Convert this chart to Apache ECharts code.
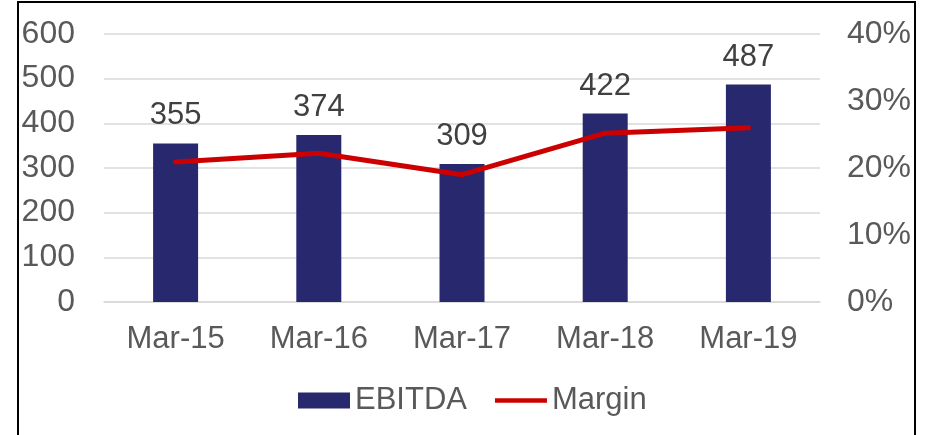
<!DOCTYPE html>
<html>
<head>
<meta charset="utf-8">
<script src="https://cdn.jsdelivr.net/npm/echarts@6/dist/echarts.min.js"></script>
<style>
  html, body { margin: 0; padding: 0; background: #fff; }
  #main { width: 928px; height: 435px; }
</style>
</head>
<body>
<div id="main"></div>
<script>
var years = ['Mar-15', 'Mar-16', 'Mar-17', 'Mar-18', 'Mar-19'];
var ebitda = [355, 374, 309, 422, 487];
var margin = [20.9, 22.2, 19.0, 25.2, 26.0];   // %

var myChart = echarts.init(document.getElementById('main'));
var font = '"Liberation Sans", Arial, sans-serif';

var option = {
    animation: false,
    backgroundColor: '#fff',
    textStyle: { fontFamily: font },
    graphic: [{
        type: 'rect',
        shape: { x: 18, y: 2, width: 897, height: 445 },
        style: { fill: 'none', stroke: '#000', lineWidth: 2 },
        silent: true
    }],
    grid: { left: 104, right: 108, top: 34, bottom: 133 },
    legend: {
        left: 293,
        top: 380,
        itemWidth: 52,
        itemHeight: 16,
        itemGap: 28,
        textStyle: { fontSize: 31, color: '#595959', fontFamily: font },
        data: [
            { name: 'EBITDA', icon: 'rect' },
            { name: 'Margin', icon: 'path://M0,0 L56,0 L56,5 L0,5 Z', itemStyle: { color: '#cc0000' } }
        ]
    },
    xAxis: {
        type: 'category',
        data: years,
        axisLine: { lineStyle: { color: '#d9d9d9', width: 1.5 } },
        axisTick: { show: false },
        axisLabel: { fontSize: 31, color: '#595959', margin: 22 }
    },
    yAxis: [{
        type: 'value',
        min: 0, max: 600, interval: 100,
        axisLine: { show: false },
        axisTick: { show: false },
        splitLine: { lineStyle: { color: '#d9d9d9', width: 1.5 } },
        axisLabel: { fontSize: 32, color: '#595959', margin: 29 }
    }, {
        type: 'value',
        min: 0, max: 40, interval: 10,
        axisLine: { show: false },
        axisTick: { show: false },
        splitLine: { show: false },
        axisLabel: { fontSize: 32, color: '#595959', margin: 27, formatter: '{value}%' }
    }],
    series: [{
        name: 'EBITDA',
        type: 'bar',
        data: ebitda,
        barWidth: 45,
        itemStyle: { color: '#28286f' },
        label: {
            show: true,
            position: 'top',
            distance: 12,
            fontSize: 31,
            color: '#404040',
            fontFamily: font
        }
    }, {
        name: 'Margin',
        type: 'line',
        yAxisIndex: 1,
        data: margin,
        symbol: 'none',
        lineStyle: { color: '#cc0000', width: 5, cap: 'round', join: 'round' },
        itemStyle: { color: '#cc0000' }
    }]
};

myChart.setOption(option);
</script>
</body>
</html>
